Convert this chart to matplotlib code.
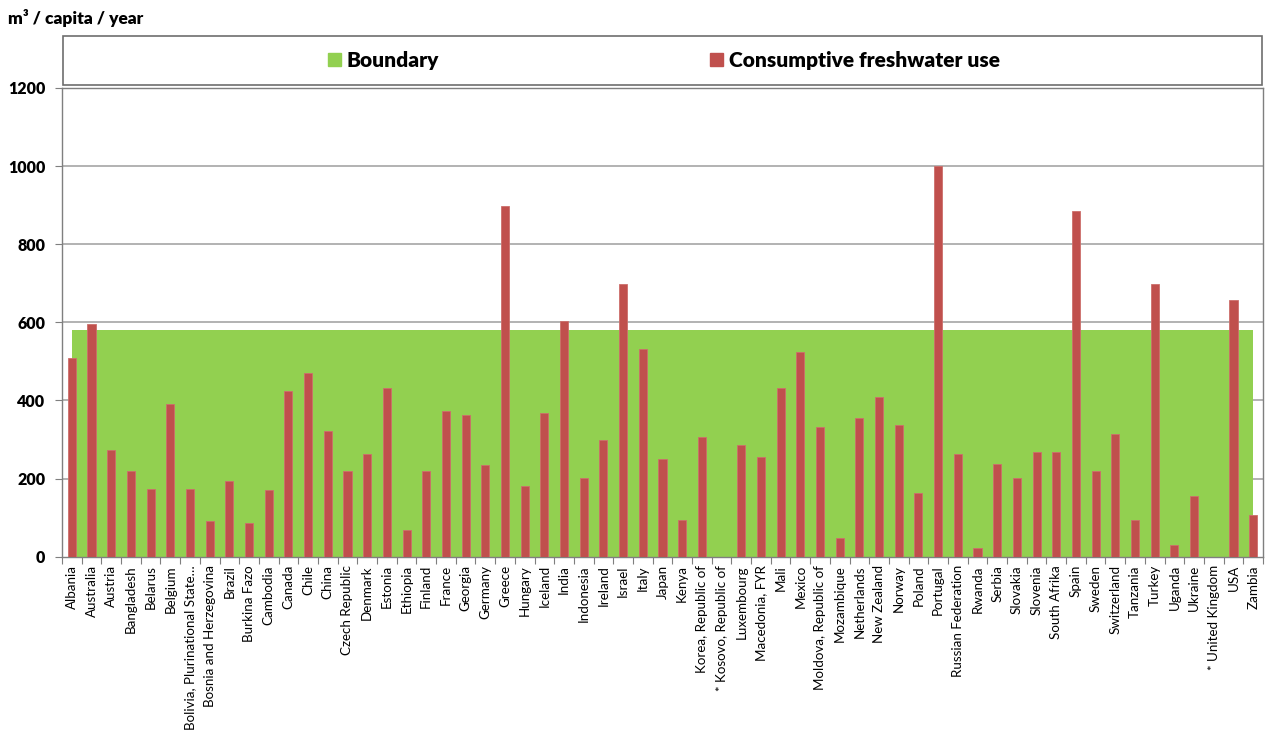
import numpy as np
import matplotlib
matplotlib.use("Agg")
import matplotlib.pyplot as plt
from matplotlib.patches import Rectangle, Patch

countries = ["Albania", "Australia", "Austria", "Bangladesh", "Belarus", "Belgium",
             "Bolivia, Plurinational State…", "Bosnia and Herzegovina", "Brazil",
             "Burkina Fazo", "Cambodia", "Canada", "Chile", "China", "Czech Republic",
             "Denmark", "Estonia", "Ethiopia", "Finland", "France", "Georgia", "Germany",
             "Greece", "Hungary", "Iceland", "India", "Indonesia", "Ireland", "Israel",
             "Italy", "Japan", "Kenya", "Korea, Republic of", "* Kosovo, Republic of",
             "Luxembourg", "Macedonia, FYR", "Mali", "Mexico", "Moldova, Republic of",
             "Mozambique", "Netherlands", "New Zealand", "Norway", "Poland", "Portugal",
             "Russian Federation", "Rwanda", "Serbia", "Slovakia", "Slovenia",
             "South Afrika", "Spain", "Sweden", "Switzerland", "Tanzania", "Turkey",
             "Uganda", "Ukraine", "* United Kingdom", "USA", "Zambia"]

consumptive_use = [509, 597, 272, 220, 174, 392,
                   173, 92, 194,
                   86, 171, 423, 470, 323, 219,
                   263, 431, 68, 219, 372, 364, 234,
                   897, 180, 368, 603, 201, 299, 698,
                   531, 250, 95, 307, None,
                   286, 256, 432, 524, 333,
                   48, 356, 409, 338, 162, 1001,
                   262, 23, 238, 202, 268,
                   268, 886, 220, 315, 95, 697,
                   30, 155, None, 658, 107]

boundary_value = 580
boundary = [boundary_value] * len(countries)

yticks = [0, 200, 400, 600, 800, 1000, 1200]

GREEN = "#92D050"
RED = "#C0504D"
GRID = "#A6A6A6"
SPINE = "#7F7F7F"
FONT = ["Lato", "DejaVu Sans"]

plt.rcParams["font.family"] = FONT

fig = plt.figure(figsize=(12.69, 7.38), dpi=100)
ax = fig.add_axes([62 / 1269, 1 - 556.7 / 738, (1263 - 62) / 1269, (556.7 - 88) / 738])

x = np.arange(len(countries))
vals = np.array([np.nan if v is None else v for v in consumptive_use], dtype=float)

ax.fill_between(x, 0, boundary, color=GREEN, linewidth=0, zorder=2)
ax.bar(x, vals, width=0.41, color=RED, edgecolor="#CD6E6B", linewidth=0.6, zorder=3)

ax.set_xlim(-0.5, len(countries) - 0.5)
ax.set_ylim(0, 1200)
ax.set_yticks(yticks)
ax.set_yticklabels([str(t) for t in yticks], fontsize=11.5, fontweight="heavy")
for t in yticks[1:]:
    ax.axhline(t, color=GRID, linewidth=1.2, zorder=1)

ax.set_xticks(x)
ax.set_xticklabels(countries, rotation=90, fontsize=9.6)
ax.set_xticks(np.arange(-0.5, len(countries)), minor=True)
ax.tick_params(axis="x", which="major", length=0, pad=6)
ax.tick_params(axis="x", which="minor", length=5, color=SPINE, width=0.8)
ax.tick_params(axis="y", length=5, color=SPINE, width=0.8, pad=7)

for s in ax.spines.values():
    s.set_color(SPINE)
    s.set_linewidth(1.0)

fig.text(8 / 1269, 1 - 18 / 738, "m³ / capita / year", fontsize=12.5,
         fontweight="heavy", va="center", ha="left")

# legend box
fig.patches.append(Rectangle((63 / 1269, 1 - 85 / 738), (1262 - 63) / 1269, 49 / 738,
                             transform=fig.transFigure, facecolor="white",
                             edgecolor="#6E6E6E", linewidth=1.2))
handles = [Patch(facecolor=GREEN, edgecolor=GREEN, label="Boundary"),
           Patch(facecolor=RED, edgecolor=RED, label="Consumptive freshwater use")]
fig.legend(handles=handles, loc="center", bbox_to_anchor=(664 / 1269, 1 - 60 / 738),
           ncol=2, frameon=False, prop={"size": 15, "weight": "heavy"},
           handlelength=0.6, handleheight=0.6, handletextpad=0.3, columnspacing=13)

fig.savefig("out.png", dpi=100)
